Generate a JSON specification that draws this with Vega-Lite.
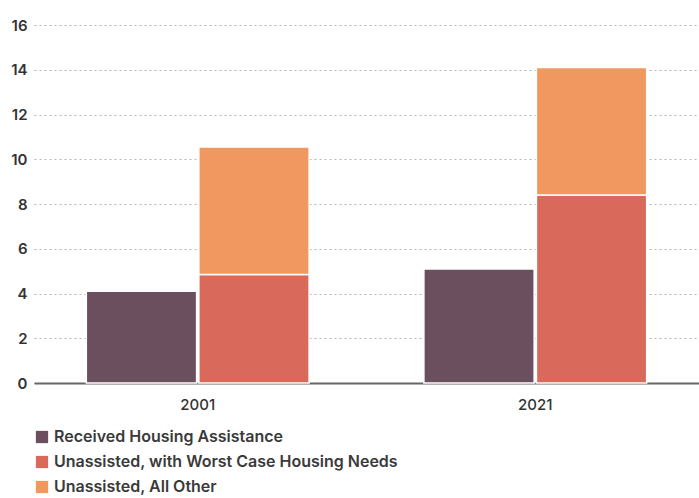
{
  "$schema": "https://vega.github.io/schema/vega-lite/v6.json",
  "width": 665,
  "height": 358,
  "autosize": {"type": "none"},
  "padding": {"left": 34, "top": 25, "right": 0, "bottom": 115},
  "background": "white",
  "config": {
    "view": {"stroke": null},
    "font": "Inter"
  },
  "data": {
    "values": [
      {"year": "2001", "bar": "A", "category": "Received Housing Assistance", "order": 1, "value": 4.1},
      {"year": "2001", "bar": "U", "category": "Unassisted, with Worst Case Housing Needs", "order": 2, "value": 4.85},
      {"year": "2001", "bar": "U", "category": "Unassisted, All Other", "order": 3, "value": 5.7},
      {"year": "2021", "bar": "A", "category": "Received Housing Assistance", "order": 1, "value": 5.1},
      {"year": "2021", "bar": "U", "category": "Unassisted, with Worst Case Housing Needs", "order": 2, "value": 8.4},
      {"year": "2021", "bar": "U", "category": "Unassisted, All Other", "order": 3, "value": 5.7}
    ]
  },
  "mark": {"type": "bar", "stroke": "white", "strokeWidth": 1.5},
  "encoding": {
    "x": {
      "field": "year",
      "type": "nominal",
      "scale": {"paddingInner": 0.34, "paddingOuter": 0.155},
      "axis": {
        "title": null,
        "labelAngle": 0,
        "ticks": false,
        "labelPadding": 14,
        "labelFontSize": 15,
        "labelFontWeight": 500,
        "labelColor": "#333333",
        "domainColor": "#666666",
        "domainWidth": 2
      }
    },
    "xOffset": {
      "field": "bar",
      "type": "nominal",
      "scale": {"paddingInner": 0.02}
    },
    "y": {
      "field": "value",
      "type": "quantitative",
      "stack": "zero",
      "scale": {"domain": [0, 16]},
      "axis": {
        "title": null,
        "values": [0, 2, 4, 6, 8, 10, 12, 14, 16],
        "domain": false,
        "ticks": false,
        "labelPadding": 7,
        "labelFontSize": 15,
        "labelFontWeight": 600,
        "labelColor": "#333333",
        "gridColor": "#b5b5b5",
        "gridDash": [2, 3],
        "gridWidth": 1
      }
    },
    "order": {"field": "order", "type": "quantitative"},
    "color": {
      "field": "category",
      "type": "nominal",
      "scale": {
        "domain": ["Received Housing Assistance", "Unassisted, with Worst Case Housing Needs", "Unassisted, All Other"],
        "range": ["#6b4f5f", "#d96a5b", "#f19760"]
      },
      "legend": {
        "title": null,
        "orient": "none",
        "legendX": 0,
        "legendY": 404,
        "direction": "vertical",
        "symbolType": "square",
        "symbolSize": 150,
        "symbolStrokeWidth": 0,
        "labelFontSize": 16,
        "labelFontWeight": 600,
        "labelColor": "#3a3a3a",
        "rowPadding": 9,
        "labelLimit": 600,
        "padding": 0
      }
    }
  }
}
